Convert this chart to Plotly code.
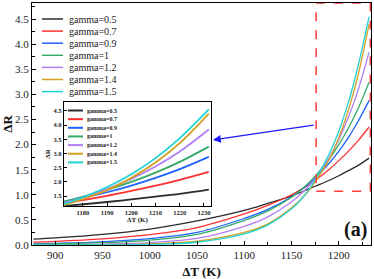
import plotly.graph_objects as go

# ---- data ----
T = [877, 900, 950, 1000, 1050, 1100, 1125, 1150, 1165, 1175, 1190, 1200, 1210, 1220, 1232]
gamma_labels = ["gamma=0.5", "gamma=0.7", "gamma=0.9", "gamma=1", "gamma=1.2", "gamma=1.4", "gamma=1.5"]
r_g05 = [0.116, 0.14, 0.211, 0.318, 0.48, 0.69, 0.83, 0.98, 1.09, 1.17, 1.29, 1.38, 1.48, 1.58, 1.73]
r_g07 = [0.057, 0.072, 0.122, 0.206, 0.348, 0.62, 0.79, 1.0, 1.163, 1.29, 1.51, 1.68, 1.865, 2.07, 2.35]
r_g09 = [0.024, 0.033, 0.064, 0.126, 0.25, 0.53, 0.71, 0.96, 1.17, 1.334, 1.634, 1.87, 2.14, 2.45, 2.88]
r_g10 = [0.015, 0.022, 0.046, 0.098, 0.21, 0.49, 0.68, 0.95, 1.18, 1.37, 1.718, 2.0, 2.325, 2.703, 3.24]
r_g12 = [0.005, 0.0075, 0.019, 0.049, 0.13, 0.37, 0.56, 0.86, 1.11, 1.32, 1.743, 2.104, 2.539, 3.064, 3.84]
r_g14 = [0.0015, 0.0025, 0.0077, 0.024, 0.075, 0.25, 0.42, 0.74, 1.01, 1.26, 1.71, 2.14, 2.68, 3.36, 4.4]
r_g15 = [0.0005, 0.0009, 0.0034, 0.0132, 0.055, 0.22, 0.40, 0.72, 1.02, 1.30, 1.82, 2.27, 2.835, 3.54, 4.55]
series = [r_g05, r_g07, r_g09, r_g10, r_g12, r_g14, r_g15]

x_ticks_main = [900, 950, 1000, 1050, 1100, 1150, 1200]
x_ticks_inset = [1180, 1190, 1200, 1210, 1220, 1230]
zoom_T = [1176, 1233.3]
zoom_R = [1.07, 4.82]

colors = ["#2b2b2b", "#ff3030", "#1f62ff", "#33aa66", "#b07ff5", "#d4a020", "#1fd3d3"]
SERIF = "Liberation Serif, Times New Roman, serif"

W, H = 374, 279
ML, MR, MT, MB = 32, 3, 3, 34
PW, PH = W - ML - MR, H - MT - MB


def px(x):
    return (x - ML) / PW


def py(y):
    return (H - MB - y) / PH


fig = go.Figure()
for vals, c, name in zip(series, colors, gamma_labels):
    fig.add_trace(go.Scatter(x=T, y=vals, mode="lines", name=name, showlegend=False,
                             line=dict(color=c, width=1.3, shape="spline"),
                             xaxis="x", yaxis="y"))
for vals, c, name in zip(series, colors, gamma_labels):
    fig.add_trace(go.Scatter(x=T, y=vals, mode="lines", name=name, showlegend=False,
                             line=dict(color=c, width=1.8, shape="spline"),
                             xaxis="x2", yaxis="y2"))

shapes = []
annotations = []

# dashed zoom box
shapes.append(dict(type="rect", xref="x", yref="y", x0=zoom_T[0], x1=zoom_T[1],
                   y0=zoom_R[0], y1=zoom_R[1], line=dict(color="#ff3b3b", width=1.5, dash="dash")))

# main legend
for i, (name, c) in enumerate(zip(gamma_labels, colors)):
    yy = 19 + i * 12.1
    shapes.append(dict(type="line", xref="paper", yref="paper", x0=px(42), x1=px(63),
                       y0=py(yy), y1=py(yy), line=dict(color=c, width=1.5)))
    annotations.append(dict(xref="paper", yref="paper", x=px(67), y=py(yy), text=name,
                            showarrow=False, xanchor="left", yanchor="middle",
                            font=dict(family=SERIF, size=10, color="#222")))

# inset legend
for i, (name, c) in enumerate(zip(gamma_labels, colors)):
    yy = 110.5 + i * 8.65
    shapes.append(dict(type="line", xref="paper", yref="paper", x0=px(68), x1=px(83),
                       y0=py(yy), y1=py(yy), line=dict(color=c, width=2)))
    annotations.append(dict(xref="paper", yref="paper", x=px(85), y=py(yy), text=name,
                            showarrow=False, xanchor="left", yanchor="middle",
                            font=dict(family=SERIF, size=6, color="#222", weight="bold")))

# arrow
annotations.append(dict(xref="paper", yref="paper", x=px(213), y=py(140), ax=102, ay=-15,
                        text="", showarrow=True, arrowhead=2, arrowsize=1.2, arrowwidth=1.3,
                        arrowcolor="#1a1aff"))
# (a)
annotations.append(dict(xref="paper", yref="paper", x=px(355), y=py(229), text="<b>(a)</b>",
                        showarrow=False, xanchor="center", yanchor="middle",
                        font=dict(family=SERIF, size=20, color="#111")))

axis_common = dict(showline=True, linecolor="black", mirror=True, ticks="inside",
                   showgrid=False, zeroline=False, automargin=False, tickcolor="black")

fig.update_layout(
    width=W, height=H,
    margin=dict(l=ML, r=MR, t=MT, b=MB),
    paper_bgcolor="white", plot_bgcolor="white",
    showlegend=False,
    xaxis=dict(**axis_common, domain=[0, 1], anchor="y", range=[875.5, 1234],
               tickvals=x_ticks_main, ticklen=4, tickwidth=1, linewidth=1.3,
               minor=dict(ticks="inside", ticklen=2.5, dtick=25, tick0=900, tickcolor="black"),
               tickfont=dict(family=SERIF, size=11, color="#222"),
               title=dict(text="<b>ΔT (K)</b>", font=dict(family=SERIF, size=13, color="#111"),
                          standoff=8)),
    yaxis=dict(**axis_common, domain=[0, 1], anchor="x", range=[0, 4.82],
               tick0=0, dtick=0.5, tickformat=".1f", ticklen=4, tickwidth=1, linewidth=1.3,
               minor=dict(ticks="inside", ticklen=2.5, dtick=0.25, tick0=0, tickcolor="black"),
               tickfont=dict(family=SERIF, size=11, color="#222"),
               title=dict(text="<b>ΔR</b>", font=dict(family=SERIF, size=13, color="#111"),
                          standoff=6)),
    xaxis2=dict(**axis_common, domain=[px(64), px(211)], anchor="y2", range=[1172.2, 1232.9],
                tickvals=x_ticks_inset, ticklen=2.5, tickwidth=1, linewidth=1.2,
                tickfont=dict(family=SERIF, size=6.5, color="#222", weight="bold"),
                title=dict(text="<b>ΔT (K)</b>", font=dict(family=SERIF, size=7, color="#111"),
                           standoff=2)),
    yaxis2=dict(**axis_common, domain=[py(206), py(102)], anchor="x2", range=[1.15, 4.81],
                tick0=1.5, dtick=0.5, tickformat=".1f", ticklen=2.5, tickwidth=1, linewidth=1.2,
                tickfont=dict(family=SERIF, size=6.5, color="#222", weight="bold"),
                title=dict(text="<b>ΔR</b>", font=dict(family=SERIF, size=7, color="#111"),
                           standoff=2)),
    shapes=shapes,
    annotations=annotations,
)

fig.write_html("out.html", config={"displayModeBar": False},
               post_script="document.body.style.margin='0';document.body.style.padding='0';")
